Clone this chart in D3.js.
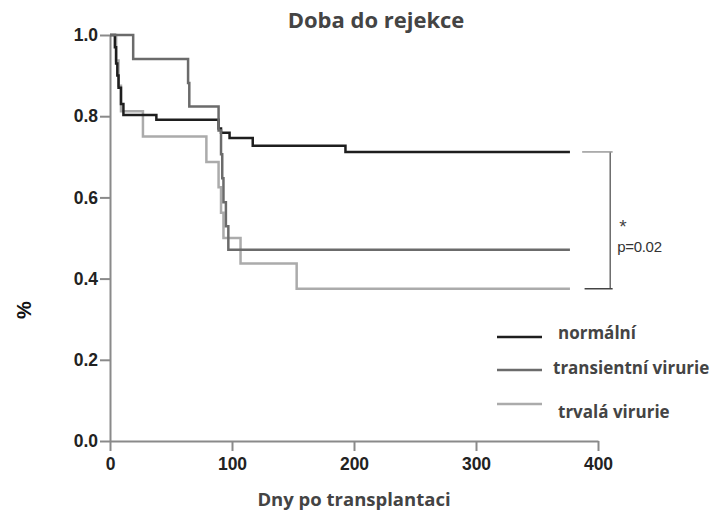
<!doctype html>
<html lang="cs">
<head>
  <meta charset="utf-8">
  <title>Doba do rejekce</title>
  <script src="https://d3js.org/d3.v7.min.js"></script>
  <style>
    body { margin: 0; background: #fff; }
    svg { display: block; }
    .tick text { font-family: "Liberation Sans", Arial, sans-serif; font-weight: bold; font-size: 17.5px; fill: #222; }
    .domain, .tick line { stroke: #8a8a8a; stroke-width: 2px; }
    .title, .xlabel, .legend text { font-family: "Open Sans", sans-serif; font-weight: bold; fill: #444; }
  </style>
</head>
<body>
<svg id="chart" width="715" height="511"></svg>
<script>
  // Kaplan-Meier curves, values
  var xTicks = [0, 100, 200, 300, 400];
  var yTicks = [0.0, 0.2, 0.4, 0.6, 0.8, 1.0];

  var normalDays = [0, 4, 5, 6, 7, 9, 11, 38, 89, 91, 98, 117, 193, 377];
  var normalSurv = [1.0, 0.97, 0.93, 0.90, 0.87, 0.83, 0.803, 0.791, 0.77, 0.759, 0.746, 0.727, 0.712, 0.712];

  var transDays = [0, 19, 64, 65, 89, 91, 92, 93, 95, 97, 377];
  var transSurv = [1.0, 0.941, 0.882, 0.824, 0.765, 0.706, 0.647, 0.588, 0.529, 0.471, 0.471];

  var trvalaDays = [0, 5, 7, 9, 27, 79, 89, 91, 93, 107, 153, 377];
  var trvalaSurv = [1.0, 0.9375, 0.875, 0.8125, 0.75, 0.6875, 0.625, 0.5625, 0.5, 0.4375, 0.375, 0.375];

  var seriesNames = ["normální", "transientní virurie", "trvalá virurie"];
  var seriesColors = ["#1e1e1e", "#6b6b6b", "#ababab"];

  var svg = d3.select("#chart");

  var x = d3.scaleLinear().domain([0, 400]).range([110, 598]);
  var y = d3.scaleLinear().domain([0, 1]).range([441, 35]);

  // axes
  svg.append("g")
    .attr("transform", "translate(0," + y(0) + ")")
    .call(d3.axisBottom(x).tickValues(xTicks).tickSize(10).tickPadding(4).tickSizeOuter(0))
    .selectAll("text").attr("dy", "0.85em");

  svg.append("g")
    .attr("transform", "translate(" + x(0) + ",0)")
    .call(d3.axisLeft(y).tickValues(yTicks).tickFormat(d3.format(".1f")).tickSize(10).tickPadding(2).tickSizeOuter(0));

  // curves
  var line = d3.line()
    .x(function(d) { return x(d[0]); })
    .y(function(d) { return y(d[1]); })
    .curve(d3.curveStepAfter);

  var series = [
    d3.zip(normalDays, normalSurv),
    d3.zip(transDays, transSurv),
    d3.zip(trvalaDays, trvalaSurv)
  ];

  [2, 0, 1].forEach(function(i) {
    svg.append("path")
      .datum(series[i])
      .attr("d", line)
      .attr("fill", "none")
      .attr("stroke", seriesColors[i])
      .attr("stroke-width", 2.5);
  });

  // significance bracket between normal and trvala
  var yTop = y(normalSurv[normalSurv.length - 1]);
  var yBot = y(trvalaSurv[trvalaSurv.length - 1]);
  var bx = x(410);
  svg.append("line").attr("x1", bx).attr("x2", bx).attr("y1", yTop).attr("y2", yBot)
    .attr("stroke", "#555").attr("stroke-width", 1.3);
  svg.append("line").attr("x1", x(387)).attr("x2", x(412)).attr("y1", yTop).attr("y2", yTop)
    .attr("stroke", "#999").attr("stroke-width", 1.5);
  svg.append("line").attr("x1", x(389)).attr("x2", x(412)).attr("y1", yBot).attr("y2", yBot)
    .attr("stroke", "#444").attr("stroke-width", 1.5);
  svg.append("text").attr("x", bx + 9).attr("y", (yTop + yBot) / 2 + 13)
    .style("font-family", "Liberation Sans, Arial, sans-serif").style("font-size", "19px").attr("fill", "#444")
    .text("*");
  svg.append("text").attr("x", bx + 7).attr("y", (yTop + yBot) / 2 + 32)
    .style("font-family", "Liberation Sans, Arial, sans-serif").style("font-size", "15px").attr("fill", "#333")
    .style("letter-spacing", "-0.3px").text("p=0.02");

  // titles
  svg.append("text").attr("class", "title")
    .attr("x", 376).attr("y", 28).attr("text-anchor", "middle")
    .style("font-size", "22px").text("Doba do rejekce");

  svg.append("text").attr("class", "xlabel")
    .attr("x", 354).attr("y", 506).attr("text-anchor", "middle")
    .style("font-size", "18.5px").text("Dny po transplantaci");

  svg.append("text")
    .attr("transform", "translate(31,310) rotate(-90)")
    .attr("text-anchor", "middle")
    .style("font-family", "Liberation Sans, Arial, sans-serif").style("font-weight", "bold").style("font-size", "20px")
    .attr("fill", "#111").text("%");

  // legend
  var legendY = [337, 370, 404];
  var legendTextX = [558, 553, 558];
  var legendTextDy = [-4, -2, 8];
  var legend = svg.append("g").attr("class", "legend");
  seriesNames.forEach(function(name, i) {
    legend.append("line")
      .attr("x1", 497).attr("x2", 542).attr("y1", legendY[i]).attr("y2", legendY[i])
      .attr("stroke", seriesColors[i]).attr("stroke-width", 2.5);
    legend.append("text")
      .attr("x", legendTextX[i]).attr("y", legendY[i] + legendTextDy[i])
      .attr("dy", "0.35em")
      .style("font-size", "17px").text(name);
  });
</script>
</body>
</html>
